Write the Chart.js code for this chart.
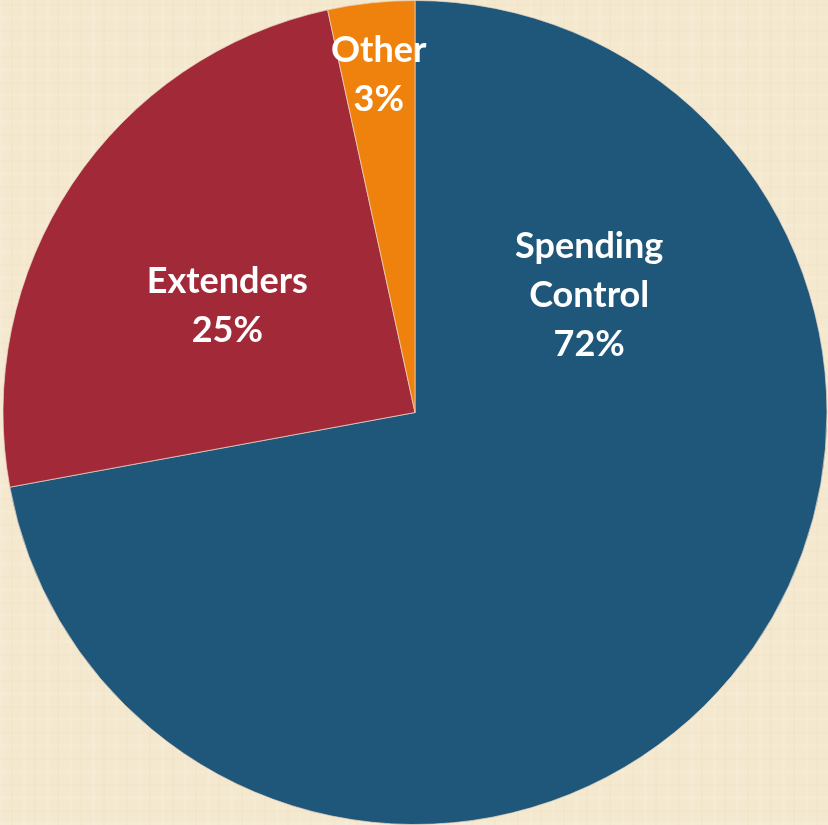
<!DOCTYPE html>
<html>
<head>
<meta charset="utf-8">
<script src="https://cdn.jsdelivr.net/npm/chart.js@4.4.1/dist/chart.umd.min.js"></script>
<style>
    html, body {
        margin: 0;
        padding: 0;
    }
    body {
        width: 828px;
        height: 825px;
        overflow: hidden;
        background-color: #f4e8ce;
        background-image:
            repeating-linear-gradient(90deg, rgba(255,255,255,0.10) 0 3px, rgba(0,0,0,0) 3px 11px, rgba(215,195,155,0.07) 11px 13px, rgba(0,0,0,0) 13px 23px),
            repeating-linear-gradient(0deg, rgba(255,255,255,0.09) 0 3px, rgba(0,0,0,0) 3px 13px, rgba(215,195,155,0.06) 13px 15px, rgba(0,0,0,0) 15px 26px);
    }
    .container {
        position: relative;
        width: 828px;
        height: 825px;
    }
</style>
</head>
<body>
<div class="container">
    <canvas id="pieChart" width="828" height="825"></canvas>
</div>
<script>
// slice data
const categories = ['Spending Control', 'Extenders', 'Other'];
const labelLines = [['Spending', 'Control'], ['Extenders'], ['Other']];
const shares = [72.1, 24.5, 3.4];
const sliceColors = ['#1f577a', '#a12938', '#ef820c'];

// where each label sits: angle from top (deg, null = middle of slice) and fraction of radius
const labelAngles = [56, 299.6, null];
const labelRadius = [0.51, 0.524, 0.825];

const sliceLabels = {
    id: 'sliceLabels',
    afterDatasetsDraw(chart) {
        const ctx = chart.ctx;
        const meta = chart.getDatasetMeta(0);
        const total = shares.reduce((a, b) => a + b, 0);
        ctx.save();
        ctx.fillStyle = '#ffffff';
        ctx.font = 'bold 36px Lato';
        ctx.textAlign = 'center';
        ctx.textBaseline = 'middle';
        meta.data.forEach((arc, i) => {
            const p = arc.getProps(['x', 'y', 'startAngle', 'endAngle', 'outerRadius'], true);
            let ang = (p.startAngle + p.endAngle) / 2;
            if (labelAngles[i] !== null) {
                ang = labelAngles[i] * Math.PI / 180 - Math.PI / 2;
            }
            const r = p.outerRadius * labelRadius[i];
            const cx = p.x + Math.cos(ang) * r;
            const cy = p.y + Math.sin(ang) * r;
            const lines = labelLines[i].concat([Math.round(shares[i] / total * 100) + '%']);
            const lh = 49;
            const top = cy - (lines.length - 1) * lh / 2;
            lines.forEach((t, k) => {
                ctx.fillText(t, cx, top + k * lh);
            });
        });
        ctx.restore();
    }
};

const ctx = document.getElementById('pieChart').getContext('2d');
const chart = new Chart(ctx, {
    type: 'pie',
    data: {
        labels: categories,
        datasets: [{
            data: shares,
            backgroundColor: sliceColors,
            borderColor: 'rgba(235,215,200,0.7)',
            borderWidth: 1
        }]
    },
    options: {
        responsive: false,
        animation: false,
        layout: {
            padding: { left: 2, top: 0, right: 0, bottom: 0 }
        },
        plugins: {
            legend: { display: false },
            tooltip: { enabled: false }
        }
    },
    plugins: [sliceLabels]
});
</script>
</body>
</html>
